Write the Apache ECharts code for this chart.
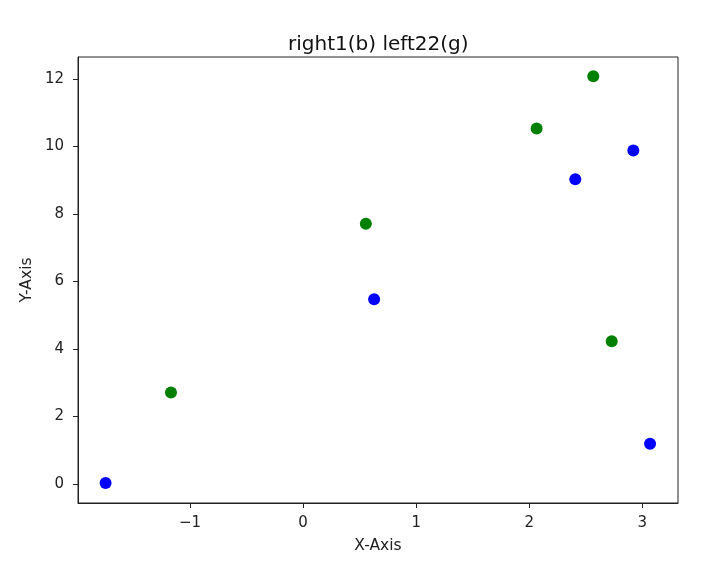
<!DOCTYPE html>
<html><head><meta charset="utf-8">
<script src="https://cdn.jsdelivr.net/npm/echarts@6/dist/echarts.min.js"></script>
<style>html,body{margin:0;padding:0;background:#fff}#c{width:703px;height:569px}</style>
</head><body><div id="c"></div>
<script>
const blueX = [-1.746, 0.628, 2.407, 2.920, 3.068];
const blueY = [0.03, 5.47, 9.03, 9.88, 1.19];
const greenX = [-1.168, 0.555, 2.065, 2.566, 2.729];
const greenY = [2.71, 7.71, 10.53, 12.08, 4.23];
const xTicks = [-1, 0, 1, 2, 3];
const yTicks = [0, 2, 4, 6, 8, 10, 12];
const titleText = 'right1(b) left22(g)';

const pairs = (xs, ys) => xs.map((x, i) => [x, ys[i]]);
const fmt = v => String(v).replace('-', '\u2212');
const font = 'DejaVu Sans';
const chart = echarts.init(document.getElementById('c'));
chart.setOption({
  animation: false,
  backgroundColor: '#fff',
  title: { text: titleText, left: 283, top: 30,
    textStyle: { fontFamily: font, fontSize: 20, fontWeight: 'normal', color: '#111' } },
  grid: { left: 78, right: 25, top: 57, bottom: 66, show: true, borderColor: '#222', borderWidth: 1, containLabel: false },
  xAxis: { type: 'value', min: -1.99, max: 3.315,
    axisLine: { show: true, onZero: false, lineStyle: { color: '#222', width: 1 } },
    axisTick: { show: true, length: 5, lineStyle: { color: '#222' }, customValues: xTicks },
    axisLabel: { fontFamily: font, fontSize: 15, color: '#222', margin: 13, formatter: fmt, customValues: xTicks },
    splitLine: { show: false },
    name: 'X-Axis', nameLocation: 'middle', nameGap: 35, nameMoveOverlap: false,
    nameTextStyle: { fontFamily: font, fontSize: 15.5, color: '#222' } },
  yAxis: { type: 'value', min: -0.565, max: 12.65,
    axisLine: { show: true, onZero: false, lineStyle: { color: '#222', width: 1 } },
    axisTick: { show: true, length: 5, lineStyle: { color: '#222' }, customValues: yTicks },
    axisLabel: { fontFamily: font, fontSize: 15, color: '#222', margin: 14, formatter: fmt, customValues: yTicks },
    splitLine: { show: false },
    name: 'Y-Axis', nameLocation: 'middle', nameGap: 43.5, nameMoveOverlap: false,
    nameTextStyle: { fontFamily: font, fontSize: 15.5, color: '#222' } },
  series: [
    { type: 'scatter', data: pairs(blueX, blueY), symbolSize: 12, itemStyle: { color: '#0000ff', opacity: 1 } },
    { type: 'scatter', data: pairs(greenX, greenY), symbolSize: 12, itemStyle: { color: '#008000', opacity: 1 } }
  ]
});
</script></body></html>
